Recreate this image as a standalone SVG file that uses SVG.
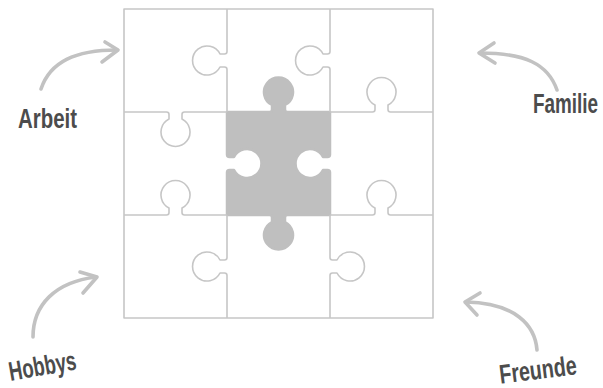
<svg xmlns="http://www.w3.org/2000/svg" xmlns:xlink="http://www.w3.org/1999/xlink" width="603" height="388" viewBox="0 0 603 388">
<style>
.line{fill:none;stroke:#c6c6c6;stroke-width:1.6;stroke-linejoin:round}
.piece{fill:#bfbfbf;stroke:#bfbfbf;stroke-width:2.5;stroke-linejoin:round}
.arrow{fill:none;stroke:#c2c2c2;stroke-width:3.6;stroke-linecap:round;stroke-linejoin:round}
.label{font-family:"Liberation Sans",Arial,sans-serif;font-weight:bold;font-size:27px;fill:#4c4c4c;text-anchor:middle}
</style>
<defs>
<path id="edge" d="M0,0 L42.5,0 Q45,0 45,-2.5 L45,-7 A14.5 14.5 0 1 1 58,-7 L58,-2.5 Q58,0 60.5,0 L103,0"/>
</defs>
<rect width="603" height="388" fill="#ffffff"/>
<g id="puzzle">
<g id="center-piece">
<path class="piece" d="M227,112 L269.5,112 Q272,112 272,109.5 L272,105 A14.5 14.5 0 1 1 285,105 L285,109.5 Q285,112 287.5,112 L330,112 L330,154.5 Q330,157 327.5,157 L323,157 A14.5 14.5 0 1 0 323,170 L327.5,170 Q330,170 330,172.5 L330,215 L287.5,215 Q285,215 285,217.5 L285,222 A14.5 14.5 0 1 1 272,222 L272,217.5 Q272,215 269.5,215 L227,215 L227,172.5 Q227,170 229.5,170 L234,170 A14.5 14.5 0 1 0 234,157 L229.5,157 Q227,157 227,154.5 Z"/>
</g>
<g id="grid" class="line">
<rect x="124" y="9" width="309" height="309"/>
<use xlink:href="#edge" transform="translate(124,112) scale(1,-1)"/>
<use xlink:href="#edge" transform="translate(330,112)"/>
<use xlink:href="#edge" transform="translate(124,215)"/>
<use xlink:href="#edge" transform="translate(330,215)"/>
<use xlink:href="#edge" transform="matrix(0 1 1 0 227 9)"/>
<use xlink:href="#edge" transform="matrix(0 1 1 0 227 215)"/>
<use xlink:href="#edge" transform="matrix(0 1 1 0 330 9)"/>
<use xlink:href="#edge" transform="matrix(0 1 -1 0 330 215)"/>
</g>
</g>
<g id="labels">
<g id="arbeit"><text class="label" transform="translate(47.5,128) scale(0.756,1)">Arbeit</text></g>
<g id="familie"><text class="label" transform="translate(565.5,113) scale(0.70,1)">Familie</text></g>
<g id="hobbys"><text class="label" transform="translate(44,375) rotate(-10) scale(0.687,1)">Hobbys</text></g>
<g id="freunde"><text class="label" transform="translate(539,379) rotate(-7) scale(0.73,1)">Freunde</text></g>
</g>
<g id="connectors" class="arrow">
<path d="M41,89 C50,62 75,50 117,50"/>
<path d="M105,42 L118,50 L102,62"/>
<path d="M557,90 C548,64 525,53 480,53"/>
<path d="M494,43 L479,53 L495,63"/>
<path d="M33,337 C33,305 55,282 96,277"/>
<path d="M80,272 L97,277 L83,293"/>
<path d="M537,350 C535,325 515,303 466,302"/>
<path d="M480,293 L465,302 L477,315"/>
</g>
</svg>
